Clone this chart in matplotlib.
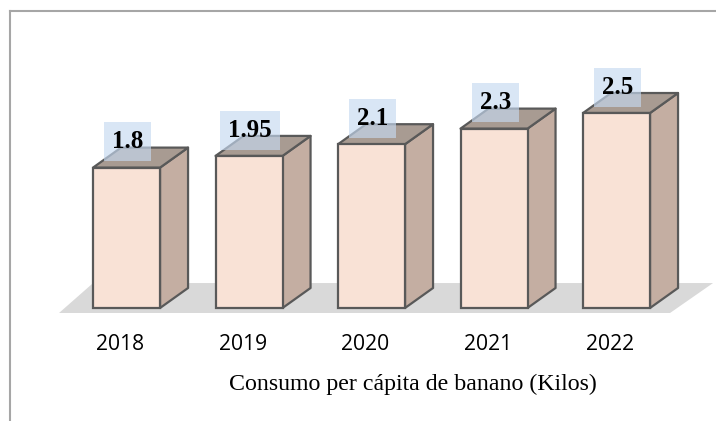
import matplotlib.pyplot as plt
from matplotlib.patches import Polygon
from matplotlib.lines import Line2D

years = ['2018', '2019', '2020', '2021', '2022']
consumo = [1.8, 1.95, 2.1, 2.3, 2.5]
titulo = 'Consumo per cápita de banano (Kilos)'

front_col = '#f9e2d6'
side_col = '#c4aea2'
top_col = '#a89b92'
edge_col = '#595959'

fig = plt.figure(figsize=(7.16, 4.21), dpi=100)
ax = fig.add_axes([0, 0, 1, 1])
ax.set_xlim(-1.033, 4.812)
ax.set_ylim(-1.449, 3.949)
ax.axis('off')

w = 0.547
dx = 0.2286
dy = 0.2564

# floor
floor = Polygon([(-0.551, -0.064), (4.437, -0.064), (4.788, 0.32), (-0.273, 0.32)],
                closed=True, fc='#d9d9d9', ec='none', zorder=1)
ax.add_patch(floor)

for i, v in enumerate(consumo):
    ax.bar(i, v, width=w, color=front_col, edgecolor=edge_col, linewidth=1.6, zorder=3)
    side = Polygon([(i + w/2, 0), (i + w/2 + dx, dy), (i + w/2 + dx, v + dy), (i + w/2, v)],
                   closed=True, fc=side_col, ec=edge_col, lw=1.6, joinstyle='round', zorder=2)
    top = Polygon([(i - w/2, v), (i + w/2, v), (i + w/2 + dx, v + dy), (i - w/2 + dx, v + dy)],
                  closed=True, fc=top_col, ec=edge_col, lw=1.6, joinstyle='round', zorder=2)
    ax.add_patch(side)
    ax.add_patch(top)
    ax.text(i + 0.01, v + 0.33, f'{v:g}', ha='center', va='center',
            family='Liberation Serif', fontweight='bold', fontsize=18, zorder=5,
            bbox=dict(boxstyle='square,pad=0.32', fc='#c6d9f1', alpha=0.65, ec='none'))
    ax.text(i - 0.05, -0.474, years[i], ha='center', va='center',
            family='Open Sans', fontsize=15.2, color='black')

ax.text(2.339, -0.974, titulo, ha='center', va='center',
        family='Liberation Serif', fontsize=17.2, color='black')

# outer frame (only top and left visible)
fig.add_artist(Line2D([0.014, 1.0], [0.974, 0.974], transform=fig.transFigure,
                      color='#a6a6a6', lw=1.5))
fig.add_artist(Line2D([0.014, 0.014], [0.0, 0.974], transform=fig.transFigure,
                      color='#a6a6a6', lw=1.5))

fig.savefig('out.png', dpi=100)
